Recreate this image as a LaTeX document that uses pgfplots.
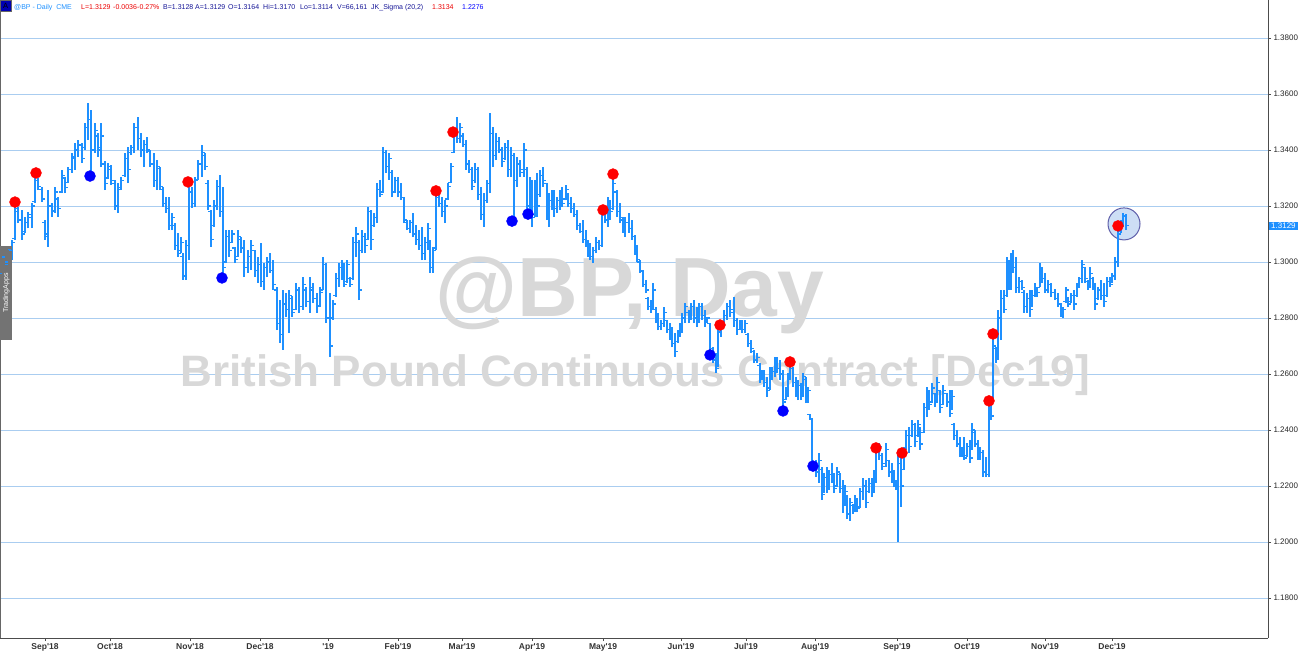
\documentclass[border=0pt]{standalone}
\usepackage{pgfplots}
\usepackage{pgfplotstable}
\pgfplotsset{compat=1.18}
\usepackage{fontspec}
\setmainfont{Liberation Sans}
\definecolor{barblue}{RGB}{30,144,255}
\definecolor{gridblue}{RGB}{170,205,240}
\definecolor{wmgray}{RGB}{216,216,216}
\definecolor{navytxt}{RGB}{20,20,150}
\definecolor{hdrred}{RGB}{235,0,0}
\definecolor{circline}{RGB}{95,95,170}
\definecolor{circfill}{RGB}{205,222,245}

\pgfdeclareplotmark{otick}{\pgfpathmoveto{\pgfpoint{-2.6pt}{0pt}}\pgfpathlineto{\pgfpoint{0pt}{0pt}}\pgfusepathqstroke}
\pgfdeclareplotmark{ctick}{\pgfpathmoveto{\pgfpoint{0pt}{0pt}}\pgfpathlineto{\pgfpoint{2.6pt}{0pt}}\pgfusepathqstroke}

\pgfplotstableread{
x h l o c
2 1.3043 1.2946 1.2960 1.3020
5 1.3032 1.2971 1.3015 1.2990
8 1.3057 1.2996 1.3000 1.3045
12 1.3079 1.3007 1.3040 1.3070
15 1.3211 1.3079 1.3085 1.3190
18 1.3196 1.3139 1.3180 1.3150
22 1.3186 1.3079 1.3150 1.3100
25 1.3161 1.3104 1.3110 1.3140
28 1.3180 1.3120 1.3140 1.3170
32 1.3211 1.3121 1.3160 1.3200
35 1.3304 1.3211 1.3215 1.3290
38 1.3300 1.3257 1.3290 1.3270
42 1.3268 1.3214 1.3260 1.3225
45 1.3150 1.3079 1.3140 1.3100
48 1.3257 1.3054 1.3090 1.3200
52 1.3211 1.3161 1.3200 1.3180
55 1.3268 1.3175 1.3185 1.3250
58 1.3232 1.3161 1.3225 1.3190
62 1.3329 1.3246 1.3250 1.3310
65 1.3304 1.3246 1.3300 1.3265
68 1.3339 1.3282 1.3285 1.3330
72 1.3389 1.3318 1.3330 1.3375
75 1.3425 1.3329 1.3370 1.3400
78 1.3436 1.3375 1.3400 1.3420
82 1.3425 1.3354 1.3415 1.3370
85 1.3496 1.3400 1.3410 1.3480
88 1.3568 1.3436 1.3480 1.3510
91 1.3543 1.3318 1.3510 1.3400
95 1.3496 1.3389 1.3400 1.3470
98 1.3461 1.3375 1.3450 1.3400
101 1.3496 1.3339 1.3410 1.3450
105 1.3361 1.3257 1.3350 1.3280
108 1.3354 1.3296 1.3300 1.3340
111 1.3346 1.3275 1.3330 1.3290
115 1.3293 1.3186 1.3280 1.3200
118 1.3282 1.3175 1.3200 1.3260
121 1.3304 1.3257 1.3265 1.3290
125 1.3389 1.3304 1.3310 1.3370
128 1.3411 1.3282 1.3370 1.3330
131 1.3418 1.3382 1.3390 1.3410
134 1.3496 1.3389 1.3410 1.3480
138 1.3518 1.3400 1.3480 1.3440
141 1.3461 1.3375 1.3440 1.3400
144 1.3436 1.3339 1.3400 1.3420
147 1.3446 1.3389 1.3420 1.3400
150 1.3400 1.3339 1.3395 1.3350
154 1.3389 1.3268 1.3350 1.3290
157 1.3364 1.3257 1.3290 1.3340
160 1.3339 1.3257 1.3335 1.3270
163 1.3268 1.3196 1.3260 1.3210
166 1.3232 1.3175 1.3210 1.3190
169 1.3232 1.3114 1.3190 1.3130
172 1.3175 1.3114 1.3130 1.3160
175 1.3139 1.3043 1.3130 1.3060
178 1.3104 1.3018 1.3060 1.3030
181 1.3089 1.3032 1.3040 1.3070
183 1.3032 1.2936 1.3020 1.2950
186 1.3079 1.2936 1.2950 1.3060
189 1.3282 1.3007 1.3060 1.3250
192 1.3268 1.3193 1.3250 1.3210
195 1.3304 1.3196 1.3210 1.3290
198 1.3364 1.3293 1.3295 1.3350
202 1.3418 1.3304 1.3350 1.3390
205 1.3389 1.3329 1.3380 1.3340
208 1.3293 1.3186 1.3280 1.3200
211 1.3186 1.3054 1.3180 1.3080
214 1.3221 1.3125 1.3130 1.3200
217 1.3293 1.3186 1.3200 1.3270
220 1.3311 1.3161 1.3270 1.3180
223 1.3268 1.2946 1.3180 1.2980
226 1.3114 1.2996 1.3000 1.3090
229 1.3114 1.3018 1.3090 1.3040
232 1.3114 1.3068 1.3070 1.3100
235 1.3054 1.2996 1.3050 1.3010
238 1.3114 1.3018 1.3020 1.3090
241 1.3089 1.3032 1.3080 1.3050
244 1.3079 1.2946 1.3050 1.2980
248 1.3043 1.2961 1.2980 1.3020
251 1.3079 1.2971 1.3020 1.3060
255 1.3043 1.2946 1.3040 1.2970
258 1.3018 1.2925 1.2970 1.2990
261 1.3068 1.2911 1.2990 1.2930
264 1.2996 1.2900 1.2930 1.2980
267 1.3018 1.2946 1.2980 1.3000
270 1.3032 1.2961 1.3000 1.2970
273 1.3007 1.2900 1.2970 1.2920
277 1.2911 1.2757 1.2900 1.2780
280 1.2864 1.2711 1.2780 1.2740
283 1.2900 1.2686 1.2740 1.2850
286 1.2889 1.2804 1.2850 1.2830
289 1.2900 1.2746 1.2830 1.2880
292 1.2879 1.2804 1.2870 1.2820
296 1.2925 1.2829 1.2830 1.2900
299 1.2911 1.2818 1.2900 1.2840
303 1.2946 1.2829 1.2840 1.2920
306 1.2911 1.2839 1.2900 1.2860
310 1.2946 1.2818 1.2860 1.2910
313 1.2925 1.2854 1.2900 1.2870
317 1.2889 1.2818 1.2870 1.2840
320 1.2911 1.2839 1.2845 1.2890
323 1.3018 1.2900 1.2900 1.2990
326 1.2996 1.2782 1.2990 1.2800
330 1.2889 1.2661 1.2800 1.2700
333 1.2864 1.2793 1.2800 1.2850
336 1.2961 1.2875 1.2880 1.2940
339 1.2996 1.2911 1.2940 1.2980
342 1.3007 1.2936 1.2980 1.2950
344 1.2996 1.2911 1.2950 1.2920
347 1.3007 1.2925 1.2930 1.2990
350 1.2946 1.2911 1.2940 1.2920
353 1.3089 1.2936 1.2940 1.3070
356 1.3125 1.3018 1.3070 1.3100
359 1.3079 1.2864 1.3070 1.2900
362 1.3114 1.3032 1.3040 1.3090
365 1.3104 1.3032 1.3090 1.3060
368 1.3196 1.3079 1.3080 1.3180
371 1.3186 1.3043 1.3180 1.3080
374 1.3175 1.3125 1.3130 1.3160
377 1.3282 1.3139 1.3160 1.3260
380 1.3293 1.3232 1.3260 1.3240
383 1.3411 1.3246 1.3250 1.3390
386 1.3400 1.3318 1.3390 1.3340
389 1.3389 1.3293 1.3340 1.3370
392 1.3329 1.3232 1.3320 1.3250
395 1.3304 1.3246 1.3250 1.3290
398 1.3304 1.3232 1.3290 1.3250
401 1.3282 1.3221 1.3250 1.3230
404 1.3232 1.3139 1.3230 1.3150
407 1.3150 1.3114 1.3140 1.3120
410 1.3150 1.3104 1.3120 1.3140
413 1.3175 1.3089 1.3140 1.3100
416 1.3132 1.3061 1.3100 1.3080
419 1.3114 1.3043 1.3080 1.3060
422 1.3125 1.3007 1.3060 1.3030
425 1.3089 1.3007 1.3030 1.3070
428 1.3139 1.3043 1.3070 1.3120
430 1.3079 1.2961 1.3070 1.2980
433 1.3054 1.2961 1.2980 1.3040
436 1.3246 1.3043 1.3050 1.3230
439 1.3246 1.3196 1.3230 1.3210
442 1.3232 1.3161 1.3210 1.3180
445 1.3221 1.3139 1.3180 1.3200
448 1.3282 1.3221 1.3225 1.3270
451 1.3354 1.3282 1.3285 1.3340
454 1.3471 1.3389 1.3390 1.3460
457 1.3518 1.3425 1.3460 1.3440
460 1.3496 1.3425 1.3440 1.3480
463 1.3461 1.3411 1.3450 1.3420
466 1.3436 1.3329 1.3420 1.3350
469 1.3364 1.3318 1.3350 1.3330
472 1.3339 1.3257 1.3330 1.3270
475 1.3354 1.3282 1.3290 1.3330
478 1.3339 1.3221 1.3330 1.3240
481 1.3268 1.3150 1.3240 1.3170
484 1.3246 1.3125 1.3170 1.3220
487 1.3293 1.3211 1.3220 1.3280
490 1.3532 1.3246 1.3280 1.3460
493 1.3482 1.3339 1.3460 1.3380
496 1.3461 1.3364 1.3380 1.3430
499 1.3446 1.3389 1.3430 1.3400
502 1.3411 1.3339 1.3400 1.3360
505 1.3425 1.3364 1.3370 1.3410
508 1.3436 1.3304 1.3410 1.3330
511 1.3411 1.3304 1.3330 1.3380
514 1.3389 1.3161 1.3380 1.3290
517 1.3375 1.3268 1.3290 1.3350
520 1.3364 1.3304 1.3350 1.3320
524 1.3425 1.3304 1.3330 1.3400
527 1.3339 1.3161 1.3330 1.3200
530 1.3304 1.3175 1.3200 1.3280
532 1.3293 1.3125 1.3280 1.3160
535 1.3293 1.3161 1.3170 1.3270
537 1.3318 1.3161 1.3270 1.3200
540 1.3329 1.3232 1.3240 1.3310
543 1.3339 1.3268 1.3310 1.3290
547 1.3282 1.3150 1.3280 1.3170
549 1.3246 1.3125 1.3170 1.3220
552 1.3257 1.3186 1.3220 1.3240
554 1.3257 1.3161 1.3240 1.3190
557 1.3232 1.3175 1.3190 1.3220
560 1.3257 1.3186 1.3220 1.3240
562 1.3268 1.3196 1.3240 1.3210
566 1.3275 1.3221 1.3225 1.3260
568 1.3246 1.3196 1.3240 1.3210
571 1.3232 1.3175 1.3210 1.3190
574 1.3211 1.3161 1.3190 1.3170
577 1.3186 1.3114 1.3170 1.3130
580 1.3139 1.3104 1.3130 1.3110
583 1.3150 1.3068 1.3110 1.3080
586 1.3114 1.3054 1.3080 1.3070
588 1.3079 1.3018 1.3070 1.3030
590 1.3068 1.3007 1.3030 1.3020
593 1.3054 1.2996 1.3020 1.3040
596 1.3089 1.3032 1.3040 1.3070
599 1.3079 1.3043 1.3070 1.3060
602 1.3186 1.3054 1.3060 1.3170
605 1.3196 1.3139 1.3170 1.3150
608 1.3232 1.3125 1.3150 1.3210
610 1.3221 1.3150 1.3210 1.3180
613 1.3304 1.3186 1.3190 1.3280
617 1.3257 1.3161 1.3250 1.3180
620 1.3211 1.3139 1.3180 1.3160
623 1.3161 1.3104 1.3150 1.3120
625 1.3161 1.3089 1.3120 1.3140
629 1.3175 1.3104 1.3140 1.3120
632 1.3150 1.3079 1.3120 1.3090
635 1.3096 1.3025 1.3090 1.3040
637 1.3061 1.3000 1.3040 1.3010
640 1.3007 1.2961 1.3000 1.2970
643 1.2971 1.2911 1.2965 1.2920
646 1.2936 1.2889 1.2920 1.2900
648 1.2875 1.2829 1.2870 1.2840
651 1.2864 1.2818 1.2840 1.2850
653 1.2925 1.2829 1.2850 1.2900
656 1.2839 1.2782 1.2830 1.2790
658 1.2818 1.2757 1.2790 1.2770
661 1.2793 1.2757 1.2770 1.2780
664 1.2839 1.2768 1.2780 1.2820
667 1.2793 1.2746 1.2790 1.2760
670 1.2782 1.2721 1.2760 1.2730
672 1.2768 1.2696 1.2730 1.2710
675 1.2746 1.2661 1.2710 1.2680
678 1.2757 1.2711 1.2715 1.2740
680 1.2782 1.2732 1.2740 1.2770
682 1.2818 1.2746 1.2770 1.2800
685 1.2854 1.2782 1.2800 1.2840
689 1.2829 1.2782 1.2820 1.2800
691 1.2854 1.2793 1.2800 1.2840
694 1.2864 1.2782 1.2840 1.2800
697 1.2839 1.2768 1.2800 1.2820
699 1.2854 1.2782 1.2820 1.2840
702 1.2854 1.2793 1.2840 1.2810
705 1.2829 1.2768 1.2810 1.2790
707 1.2804 1.2782 1.2790 1.2800
710 1.2782 1.2675 1.2780 1.2690
713 1.2696 1.2639 1.2690 1.2650
716 1.2675 1.2604 1.2650 1.2620
718 1.2768 1.2625 1.2630 1.2750
721 1.2793 1.2732 1.2750 1.2780
724 1.2829 1.2768 1.2780 1.2810
727 1.2854 1.2793 1.2810 1.2840
730 1.2864 1.2804 1.2840 1.2820
734 1.2875 1.2768 1.2830 1.2790
737 1.2800 1.2740 1.2790 1.2760
740 1.2793 1.2757 1.2760 1.2780
742 1.2793 1.2746 1.2780 1.2760
745 1.2793 1.2746 1.2760 1.2780
748 1.2746 1.2696 1.2740 1.2710
751 1.2721 1.2675 1.2710 1.2690
754 1.2686 1.2639 1.2680 1.2650
757 1.2675 1.2639 1.2650 1.2660
760 1.2639 1.2568 1.2630 1.2590
762 1.2614 1.2579 1.2590 1.2600
764 1.2614 1.2554 1.2600 1.2570
767 1.2589 1.2518 1.2570 1.2540
770 1.2625 1.2543 1.2550 1.2600
772 1.2625 1.2579 1.2600 1.2610
775 1.2661 1.2589 1.2610 1.2650
777 1.2661 1.2604 1.2650 1.2620
780 1.2650 1.2579 1.2620 1.2600
783 1.2614 1.2471 1.2600 1.2500
786 1.2554 1.2507 1.2510 1.2540
788 1.2604 1.2518 1.2540 1.2590
790 1.2639 1.2579 1.2590 1.2620
793 1.2625 1.2554 1.2620 1.2570
796 1.2589 1.2518 1.2570 1.2530
798 1.2579 1.2507 1.2530 1.2560
801 1.2568 1.2507 1.2560 1.2520
803 1.2604 1.2518 1.2520 1.2590
806 1.2589 1.2496 1.2580 1.2510
808 1.2554 1.2496 1.2510 1.2540
810 1.2457 1.2436 1.2455 1.2440
812 1.2443 1.2264 1.2440 1.2280
816 1.2293 1.2232 1.2280 1.2250
819 1.2318 1.2211 1.2250 1.2290
822 1.2268 1.2150 1.2260 1.2170
824 1.2246 1.2175 1.2180 1.2230
827 1.2268 1.2175 1.2230 1.2200
829 1.2257 1.2186 1.2200 1.2240
832 1.2282 1.2211 1.2240 1.2220
834 1.2246 1.2175 1.2220 1.2190
837 1.2268 1.2196 1.2200 1.2250
840 1.2246 1.2175 1.2240 1.2190
843 1.2221 1.2104 1.2190 1.2130
845 1.2204 1.2132 1.2140 1.2180
847 1.2168 1.2082 1.2160 1.2100
850 1.2157 1.2075 1.2100 1.2140
853 1.2136 1.2100 1.2130 1.2110
855 1.2168 1.2107 1.2110 1.2150
857 1.2157 1.2107 1.2150 1.2120
860 1.2193 1.2122 1.2125 1.2180
863 1.2229 1.2150 1.2180 1.2200
866 1.2221 1.2122 1.2200 1.2140
869 1.2229 1.2175 1.2180 1.2210
872 1.2229 1.2161 1.2210 1.2180
874 1.2257 1.2175 1.2180 1.2240
876 1.2339 1.2211 1.2240 1.2320
879 1.2354 1.2293 1.2320 1.2340
882 1.2318 1.2257 1.2310 1.2270
886 1.2354 1.2268 1.2280 1.2330
889 1.2293 1.2232 1.2290 1.2250
892 1.2282 1.2211 1.2250 1.2230
894 1.2257 1.2196 1.2230 1.2210
896 1.2221 1.2186 1.2210 1.2200
898 1.2318 1.2000 1.2200 1.2280
901 1.2304 1.2125 1.2280 1.2200
904 1.2339 1.2257 1.2260 1.2320
906 1.2400 1.2329 1.2330 1.2380
909 1.2411 1.2318 1.2380 1.2340
912 1.2436 1.2375 1.2380 1.2420
915 1.2425 1.2339 1.2420 1.2360
918 1.2436 1.2375 1.2380 1.2420
920 1.2411 1.2329 1.2410 1.2350
924 1.2496 1.2389 1.2390 1.2480
927 1.2554 1.2446 1.2480 1.2530
929 1.2543 1.2471 1.2530 1.2490
932 1.2568 1.2496 1.2500 1.2550
935 1.2532 1.2482 1.2530 1.2500
937 1.2589 1.2496 1.2500 1.2570
940 1.2543 1.2461 1.2540 1.2480
943 1.2561 1.2489 1.2490 1.2540
947 1.2532 1.2482 1.2530 1.2500
950 1.2543 1.2446 1.2500 1.2460
952 1.2543 1.2471 1.2480 1.2520
954 1.2425 1.2364 1.2420 1.2380
957 1.2400 1.2339 1.2380 1.2350
960 1.2375 1.2304 1.2350 1.2320
962 1.2339 1.2304 1.2320 1.2330
964 1.2375 1.2293 1.2330 1.2300
967 1.2354 1.2304 1.2310 1.2340
970 1.2364 1.2282 1.2340 1.2300
972 1.2425 1.2329 1.2330 1.2400
975 1.2400 1.2339 1.2390 1.2350
978 1.2364 1.2293 1.2350 1.2310
980 1.2339 1.2293 1.2310 1.2320
983 1.2329 1.2232 1.2320 1.2250
986 1.2304 1.2232 1.2250 1.2240
989 1.2496 1.2232 1.2240 1.2480
991 1.2496 1.2436 1.2480 1.2450
993 1.2732 1.2507 1.2510 1.2700
996 1.2696 1.2639 1.2690 1.2660
998 1.2829 1.2650 1.2660 1.2800
1001 1.2900 1.2721 1.2800 1.2870
1004 1.2900 1.2818 1.2870 1.2830
1007 1.3018 1.2875 1.2880 1.2990
1009 1.3007 1.2900 1.2990 1.2930
1011 1.3032 1.2900 1.2930 1.3010
1013 1.3043 1.2961 1.3010 1.2980
1016 1.3018 1.2889 1.2980 1.2910
1019 1.2946 1.2889 1.2910 1.2930
1022 1.2936 1.2900 1.2930 1.2910
1024 1.2900 1.2818 1.2890 1.2840
1027 1.2889 1.2818 1.2840 1.2870
1030 1.2900 1.2804 1.2870 1.2830
1032 1.2900 1.2839 1.2840 1.2880
1035 1.2925 1.2875 1.2880 1.2910
1037 1.2911 1.2875 1.2910 1.2890
1040 1.2996 1.2911 1.2910 1.2980
1042 1.2982 1.2925 1.2970 1.2940
1045 1.2961 1.2889 1.2940 1.2900
1048 1.2936 1.2889 1.2900 1.2920
1051 1.2925 1.2875 1.2920 1.2890
1055 1.2904 1.2864 1.2890 1.2870
1058 1.2889 1.2839 1.2870 1.2850
1061 1.2854 1.2804 1.2850 1.2820
1063 1.2839 1.2800 1.2820 1.2830
1066 1.2911 1.2854 1.2860 1.2900
1068 1.2875 1.2839 1.2870 1.2850
1071 1.2889 1.2854 1.2860 1.2880
1074 1.2900 1.2829 1.2880 1.2850
1077 1.2925 1.2875 1.2880 1.2910
1079 1.2946 1.2911 1.2915 1.2940
1082 1.3007 1.2925 1.2940 1.2990
1085 1.2982 1.2925 1.2980 1.2940
1088 1.2936 1.2900 1.2930 1.2910
1090 1.2982 1.2911 1.2920 1.2960
1093 1.2946 1.2900 1.2940 1.2910
1095 1.2925 1.2829 1.2910 1.2850
1098 1.2911 1.2864 1.2870 1.2900
1101 1.2936 1.2864 1.2900 1.2880
1104 1.2925 1.2839 1.2880 1.2860
1107 1.2946 1.2875 1.2880 1.2930
1110 1.2946 1.2911 1.2930 1.2920
1112 1.2961 1.2925 1.2930 1.2950
1115 1.3018 1.2936 1.2950 1.3000
1118 1.3114 1.2982 1.3000 1.3100
1121 1.3150 1.3104 1.3110 1.3140
1123 1.3175 1.3125 1.3140 1.3164
1126 1.3170 1.3114 1.3164 1.3129
}\ohlc

\pgfplotstableread{
x y
15 1.3214
36 1.3318
188 1.3286
436 1.3254
453 1.3464
603 1.3186
613 1.3314
720 1.2775
790 1.2643
876 1.2336
902 1.2318
989 1.2504
993 1.2743
1118 1.3129
}\reddots

\pgfplotstableread{
x y
90 1.3307
222 1.2943
512 1.3146
528 1.3171
710 1.2668
783 1.2468
813 1.2271
}\bluedots

\begin{document}
\begin{tikzpicture}
\begin{axis}[
  set layers,
  scale only axis, width=1268pt, height=638pt,
  at={(0,0)}, anchor=south west,
  xmin=0, xmax=1268, ymin=1.16571, ymax=1.39357,
  clip=false,
  axis x line*=bottom, axis y line*=right,
  axis line style={draw=black!70, line width=0.8pt},
  tick align=outside, major tick length=3pt,
  tick style={draw=black!70, line width=0.6pt},
  ytick={1.18,1.20,1.22,1.24,1.26,1.28,1.30,1.32,1.34,1.36,1.38},
  ymajorgrids,
  grid style={draw=gridblue, line width=0.9pt},
  yticklabel style={font=\fontsize{8}{9}\selectfont, text=black!85, xshift=-1pt,
     /pgf/number format/.cd, fixed, fixed zerofill, precision=4, assume math mode=true},
  xtick={45,110,190,260,328,398,462,532,603,681,746,815,897,967,1045,1112},
  xticklabels={Sep\textquotesingle18,Oct\textquotesingle18,Nov\textquotesingle18,Dec\textquotesingle18,\textquotesingle19,Feb\textquotesingle19,Mar\textquotesingle19,Apr\textquotesingle19,May\textquotesingle19,Jun\textquotesingle19,Jul\textquotesingle19,Aug\textquotesingle19,Sep\textquotesingle19,Oct\textquotesingle19,Nov\textquotesingle19,Dec\textquotesingle19},
  xticklabel style={font=\fontsize{8.5}{10}\selectfont\bfseries, text=black!80, yshift=1pt},
]
% watermark
\node[on layer=axis background, anchor=base, font=\fontsize{84}{84}\selectfont\bfseries, text=wmgray] at (axis cs:630,1.2804) {@BP, Day};
\node[on layer=axis background, anchor=base, font=\fontsize{44}{44}\selectfont\bfseries, text=wmgray] at (axis cs:635,1.2557) {British Pound Continuous Contract [Dec19]};
% left border
\draw[on layer=axis background, black!60, line width=1.5pt] (rel axis cs:0,0) -- (rel axis cs:0,1);
% highlight circle
\draw[draw=circline, fill=circfill, line width=1pt] (axis cs:1124,1.3136) circle[radius=16pt];
% OHLC bars: high-low range
\addplot[draw=none, no markers, forget plot,
  error bars/.cd, y dir=plus, y explicit, error mark=none,
  error bar style={draw=barblue, line width=1.6pt}]
  table[x=x, y=l, y error expr=\thisrow{h}-\thisrow{l}] {\ohlc};
% open and close ticks
\addplot[only marks, mark=otick, mark options={draw=barblue, line width=1.2pt}, forget plot]
  table[x=x, y=o] {\ohlc};
\addplot[only marks, mark=ctick, mark options={draw=barblue, line width=1.2pt}, forget plot]
  table[x=x, y=c] {\ohlc};
% signal dots
\addplot[only marks, mark=*, mark size=5.5pt, mark options={draw=red, fill=red}] table[x=x,y=y] {\reddots};
\addplot[only marks, mark=*, mark size=5.5pt, mark options={draw=blue, fill=blue}] table[x=x,y=y] {\bluedots};
% last price label
\node[anchor=west, fill=barblue, text=white, inner xsep=2pt, inner ysep=1.5pt, font=\fontsize{8}{9}\selectfont] at (axis cs:1269,1.3129) {1.3129};
% TradingApps tab
\node[fill=black!55, text=white, rotate=90, minimum width=94pt, minimum height=12pt, inner sep=0pt, font=\fontsize{7}{8}\selectfont, anchor=north] at (axis cs:0,1.2889) {TradingApps};
% header
\node[anchor=north west, fill=blue!70!black, draw=black!60, minimum width=11pt, minimum height=11pt, inner sep=0pt, font=\fontsize{7.5}{8}\selectfont] at (axis cs:0,1.39357) {A};
\begin{scope}[every node/.style={anchor=base west, inner sep=0pt, font=\fontsize{7}{8}\selectfont}]
\node[text=barblue] at (axis cs:14,1.3900) {@BP - Daily \ CME};
\node[text=hdrred] at (axis cs:81,1.3900) {L=1.3129};
\node[text=hdrred] at (axis cs:113,1.3900) {-0.0036};
\node[text=hdrred] at (axis cs:137,1.3900) {-0.27\%};
\node[text=navytxt] at (axis cs:163,1.3900) {B=1.3128};
\node[text=navytxt] at (axis cs:195,1.3900) {A=1.3129};
\node[text=navytxt] at (axis cs:228,1.3900) {O=1.3164};
\node[text=navytxt] at (axis cs:263,1.3900) {Hi=1.3170};
\node[text=navytxt] at (axis cs:300,1.3900) {Lo=1.3114};
\node[text=navytxt] at (axis cs:337,1.3900) {V=66,161};
\node[text=navytxt] at (axis cs:371,1.3900) {JK\_Sigma (20,2)};
\node[text=hdrred] at (axis cs:432,1.3900) {1.3134};
\node[text=blue] at (axis cs:462,1.3900) {1.2276};
\end{scope}
\end{axis}
\pgfresetboundingbox
\useasboundingbox (0,-19pt) rectangle (1303pt,638pt);
\end{tikzpicture}
\end{document}
